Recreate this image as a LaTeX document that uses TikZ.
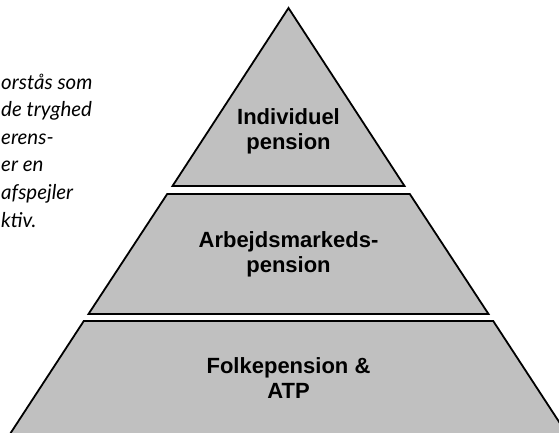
\documentclass[tikz,border=0pt]{standalone}
\usepackage{fontspec}
\setmainfont{Liberation Sans}
\newfontfamily\notefont{Lato}
\definecolor{tiergray}{HTML}{C0C0C0}
\begin{document}
\begin{tikzpicture}[x=1pt, y=-1pt, line join=miter, font=\bfseries\fontsize{22}{25}\selectfont]
	\tikzset{tier/.style={fill=tiergray, draw=black, line width=1.8pt},
		note/.style={font=\notefont\itshape\fontsize{20.5}{27.6}\selectfont, text=black, anchor=base west, inner sep=0pt}}
	\useasboundingbox (0,0) rectangle (559,432);
	\clip (0,0) rectangle (559,432);
	% corners of the three tiers (half width = 0.652 * depth below the apex)
	\path (288.5,8) coordinate (apex)
	(172.5,186) coordinate (t1l) (404.5,186) coordinate (t1r)
	(167.2,194) coordinate (t2tl) (409.8,194) coordinate (t2tr)
	(88.5,314) coordinate (t2bl) (488.5,314) coordinate (t2br)
	(83.8,321) coordinate (t3tl) (493.2,321) coordinate (t3tr)
	(-12.2,468) coordinate (t3bl) (589.2,468) coordinate (t3br)
	;
	\draw[tier] (apex) -- (t1r) -- (t1l) -- cycle;
	\draw[tier] (t2tl) -- (t2tr) -- (t2br) -- (t2bl) -- cycle;
	\draw[tier] (t3tl) -- (t3tr) -- (t3br) -- (t3bl) -- cycle;
	\node[align=center] (indiv) at (288.5,131.3) {Individuel\\pension};
	\node[align=center] (arbejd) at (288.5,254.8) {Arbejdsmarkeds-\\pension};
	\node[align=center] (folke) at (288.5,378.5) {Folkepension \&\\ATP};
	% text cut off by the left edge
	\foreach \t [count=\i] in {orstås som, de tryghed, erens-, er en, afspejler, ktiv.}
	\node[note] (note\i) at (1,{89+27.6*(\i-1)}) {\t};
\end{tikzpicture}
\end{document}
